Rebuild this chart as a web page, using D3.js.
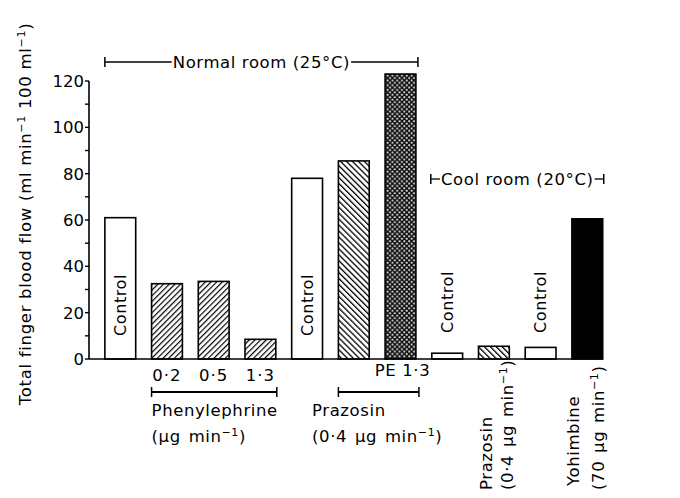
<!DOCTYPE html>
<html>
<head>
<meta charset="utf-8">
<script src="https://cdn.jsdelivr.net/npm/d3@7"></script>
<style>
  body { margin: 0; background: #fff; }
  svg { font-family: "DejaVu Sans", sans-serif; }
  svg text { white-space: pre; }
</style>
</head>
<body>
<div id="chart"></div>
<script>
// bars, left to right
const categories = ["control1", "pe02", "pe05", "pe13", "control2", "prazosin", "prazosinPe", "control3", "prazosinCool", "control4", "yohimbine"];
const values = [61, 32.5, 33.5, 8.5, 78, 85.5, 123, 2.5, 5.5, 5, 60.5];
const fills = ["none", "fwd", "fwd", "fwd", "none", "back", "dots", "none", "back", "none", "black"];
const doseLabels = [["pe02", "0·2"], ["pe05", "0·5"], ["pe13", "1·3"]];
const yTicks = [0, 20, 40, 60, 80, 100, 120];
const yMinorTicks = [10, 30, 50, 70, 90, 110];

const width = 680, height = 498;

const y = d3.scaleLinear().domain([0, 120]).range([359, 81]);
const x = d3.scaleBand().domain(categories).range([89, 618.6]).paddingInner(0.34).paddingOuter(0.34);
const bw = x.bandwidth();
const cx = c => x(c) + bw / 2;

const svg = d3.select("#chart").append("svg")
  .attr("width", width)
  .attr("height", height);

const defs = svg.append("defs");

// forward hatch ////
const fwd = defs.append("pattern").attr("id", "fwd")
  .attr("patternUnits", "userSpaceOnUse").attr("width", 4).attr("height", 4)
  .attr("patternTransform", "rotate(45)");
fwd.append("rect").attr("width", 4).attr("height", 4).attr("fill", "white");
fwd.append("line").attr("x1", 0).attr("y1", 0).attr("x2", 0).attr("y2", 4)
  .attr("stroke", "black").attr("stroke-width", 2.4);

// back hatch \\\\
const back = defs.append("pattern").attr("id", "back")
  .attr("patternUnits", "userSpaceOnUse").attr("width", 4.2).attr("height", 4.2)
  .attr("patternTransform", "rotate(-45)");
back.append("rect").attr("width", 4.2).attr("height", 4.2).attr("fill", "white");
back.append("line").attr("x1", 0).attr("y1", 0).attr("x2", 0).attr("y2", 4.2)
  .attr("stroke", "black").attr("stroke-width", 2.6);

// dots, white on black
const dots = defs.append("pattern").attr("id", "dots")
  .attr("patternUnits", "userSpaceOnUse").attr("width", 4.8).attr("height", 4.8);
dots.append("rect").attr("width", 4.8).attr("height", 4.8).attr("fill", "#111");
dots.append("circle").attr("cx", 1.2).attr("cy", 1.2).attr("r", 1).attr("fill", "white");
dots.append("circle").attr("cx", 3.6).attr("cy", 3.6).attr("r", 1).attr("fill", "white");

const fillOf = f => f === "none" ? "white" : f === "black" ? "black" : `url(#${f})`;

// bars
svg.selectAll("rect.bar")
  .data(categories)
  .join("rect")
  .attr("class", "bar")
  .attr("x", d => x(d))
  .attr("y", (d, i) => y(values[i]))
  .attr("width", bw)
  .attr("height", (d, i) => y(0) - y(values[i]))
  .attr("fill", (d, i) => fillOf(fills[i]))
  .attr("stroke", "black")
  .attr("stroke-width", 1.6);

// y axis
const yAxis = svg.append("g").attr("transform", "translate(89,0)");
yAxis.append("line").attr("x1", 0).attr("x2", 0).attr("y1", y(120)).attr("y2", y(0))
  .attr("stroke", "black").attr("stroke-width", 1.6);
yAxis.selectAll("line.major").data(yTicks.concat(yMinorTicks)).join("line")
  .attr("class", "major")
  .attr("x1", -4).attr("x2", 0)
  .attr("y1", d => y(d)).attr("y2", d => y(d))
  .attr("stroke", "black").attr("stroke-width", 1.4);
yAxis.selectAll("text").data(yTicks).join("text")
  .attr("x", -5).attr("y", d => y(d) + 6)
  .attr("text-anchor", "end")
  .attr("font-size", 16.5)
  .text(d => d);

// x baseline
svg.append("line")
  .attr("x1", 89).attr("x2", x("yohimbine") + bw)
  .attr("y1", y(0)).attr("y2", y(0))
  .attr("stroke", "black").attr("stroke-width", 1.6);

// y axis title
const yt = svg.append("text")
  .attr("transform", "translate(31,214) rotate(-90)")
  .attr("text-anchor", "middle")
  .attr("font-size", 16.5)
  .attr("letter-spacing", 0.7);
yt.append("tspan").text("Total finger blood flow (ml min");
yt.append("tspan").attr("dy", -6).attr("font-size", 11).text("−1");
yt.append("tspan").attr("dy", 6).text(" 100 ml");
yt.append("tspan").attr("dy", -6).attr("font-size", 11).text("−1");
yt.append("tspan").attr("dy", 6).text(")");

// rotated "Control" labels
const rotLabel = (xc, yb, txt) => svg.append("text")
  .attr("transform", `translate(${xc},${yb}) rotate(-90)`)
  .attr("font-size", 16)
  .attr("letter-spacing", 0.6)
  .text(txt);
rotLabel(cx("control1") + 5.5, 336, "Control");
rotLabel(cx("control2") + 5.5, 336, "Control");
rotLabel(cx("control3") + 5.5, 333, "Control");
rotLabel(cx("control4") + 5.5, 333, "Control");

// dose labels
svg.selectAll("text.dose").data(doseLabels).join("text")
  .attr("class", "dose")
  .attr("x", d => cx(d[0]))
  .attr("y", 381)
  .attr("text-anchor", "middle")
  .attr("font-size", 16.5)
  .attr("letter-spacing", 1)
  .text(d => d[1]);
svg.append("text")
  .attr("x", cx("prazosinPe") + 2).attr("y", 376)
  .attr("text-anchor", "middle").attr("font-size", 16.5)
  .attr("letter-spacing", 0.6)
  .text("PE 1·3");

// brackets
function bracket(x1, x2, yy, w) {
  const g = svg.append("g").attr("stroke", "black");
  g.append("line").attr("x1", x1).attr("x2", x2).attr("y1", yy).attr("y2", yy).attr("stroke-width", w);
  g.append("line").attr("x1", x1).attr("x2", x1).attr("y1", yy - 5).attr("y2", yy + 5).attr("stroke-width", 1.5);
  g.append("line").attr("x1", x2).attr("x2", x2).attr("y1", yy - 5).attr("y2", yy + 5).attr("stroke-width", 1.5);
}
bracket(x("pe02"), x("pe13") + bw + 1, 392, 2.2);
bracket(x("prazosin"), x("prazosinPe") + bw + 3, 392, 2.2);

// group labels with superscripts
function superLabel(xx, yy, before, sup, after, rotate) {
  const t = svg.append("text")
    .attr("font-size", 16.5)
    .attr("letter-spacing", 0.6)
    .attr("word-spacing", 2)
    .attr("transform", rotate ? `translate(${xx},${yy}) rotate(-90)` : null)
    .attr("x", rotate ? 0 : xx).attr("y", rotate ? 0 : yy);
  t.append("tspan").text(before);
  if (sup) {
    t.append("tspan").attr("dy", -6).attr("font-size", 11).text(sup);
    t.append("tspan").attr("dy", 6).text(after);
  }
  return t;
}
superLabel(x("pe02"), 416, "Phenylephrine");
superLabel(x("pe02"), 442, "(μg min", "−1", ")");
superLabel(312, 416, "Prazosin");
superLabel(312, 442, "(0·4 μg min", "−1", ")");

// rotated cool-room labels
superLabel(cx("prazosinCool") - 2, 490, "Prazosin", null, null, true);
superLabel(cx("prazosinCool") + 19, 490, "(0·4 μg min", "−1", ")", true);
superLabel(cx("yohimbine") - 8, 486, "Yohimbine", null, null, true);
superLabel(cx("yohimbine") + 17, 490, "(70 μg min", "−1", ")", true);

// room brackets at top
function roomBracket(x1, x2, yy, label, size) {
  const g = svg.append("g");
  const t = g.append("text")
    .attr("x", (x1 + x2) / 2).attr("y", yy + 5.5)
    .attr("text-anchor", "middle")
    .attr("font-size", size)
    .attr("letter-spacing", 0.6)
    .text(label);
  const w = t.node().getComputedTextLength();
  const mid = (x1 + x2) / 2;
  g.append("line").attr("x1", x1).attr("x2", mid - w / 2 - 1).attr("y1", yy).attr("y2", yy)
    .attr("stroke", "black").attr("stroke-width", 1.3);
  g.append("line").attr("x1", mid + w / 2 + 1).attr("x2", x2).attr("y1", yy).attr("y2", yy)
    .attr("stroke", "black").attr("stroke-width", 1.3);
  [x1, x2].forEach(xx => g.append("line").attr("x1", xx).attr("x2", xx)
    .attr("y1", yy - 5).attr("y2", yy + 5).attr("stroke", "black").attr("stroke-width", 1.5));
}
roomBracket(x("control1"), x("prazosinPe") + bw + 2, 62, "Normal room (25°C)", 16.5);
roomBracket(x("control3") - 1, x("yohimbine") + bw + 1, 179, "Cool room (20°C)", 16.5);
</script>
</body>
</html>
